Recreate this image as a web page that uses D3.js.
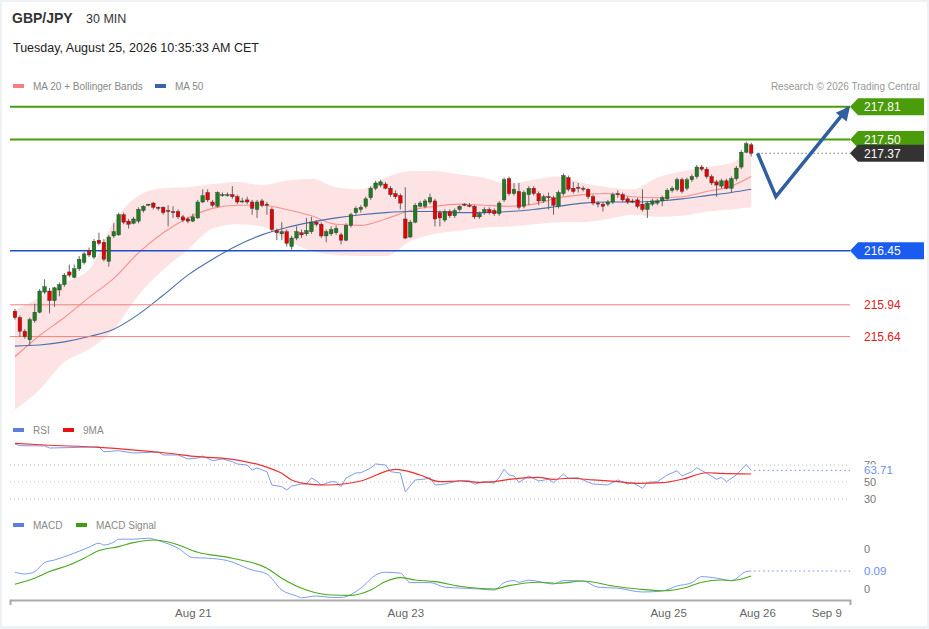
<!DOCTYPE html>
<html>
<head>
<meta charset="utf-8">
<script src="https://cdn.jsdelivr.net/npm/d3@7"></script>
<style>
body { margin:0; background:#eef2f5; font-family:"Liberation Sans", Arial, sans-serif; }
svg { display:block; }
</style>
</head>
<body>
<svg id="chart" width="929" height="629"></svg>
<script>
/* 30 min candles, index 0..149 */
var openV = [215.88,215.82,215.69,215.61,215.79,215.87,216.06,216.07,215.98,216.08,
 216.13,216.25,216.20,216.28,216.34,216.45,216.39,216.55,216.53,216.35,
 216.59,216.60,216.79,216.73,216.71,216.73,216.83,216.88,216.90,216.86,
 216.86,216.83,216.82,216.82,216.77,216.75,216.73,216.76,216.91,217.00,
 216.91,216.87,216.97,216.97,216.98,216.96,216.92,216.93,216.91,216.84,
 216.92,216.89,216.84,216.64,216.61,216.63,216.49,216.57,216.62,216.61,
 216.63,216.72,216.70,216.59,216.61,216.62,216.60,216.55,216.69,216.81,
 216.84,216.87,216.95,217.04,217.07,217.08,217.04,216.99,216.97,216.75,
 216.58,216.72,216.87,216.87,216.91,216.92,216.81,216.74,216.82,216.78,
 216.84,216.89,216.88,216.87,216.77,216.81,216.84,216.83,216.80,216.93,
 217.13,216.99,217.01,216.87,216.98,217.04,216.99,216.92,216.96,216.95,
 216.87,216.99,217.14,217.04,217.05,217.04,217.03,216.96,216.90,216.89,
 216.89,216.91,216.99,216.98,216.94,216.92,216.93,216.89,216.84,216.89,
 216.90,216.92,216.94,217.02,217.03,217.12,217.04,217.12,217.15,217.24,
 217.22,217.15,217.10,217.06,217.11,217.04,217.13,217.24,217.38,217.45];
var closeV = [215.82,215.69,215.64,215.80,215.87,216.07,216.11,215.98,216.10,216.13,
 216.22,216.22,216.28,216.37,216.42,216.41,216.54,216.52,216.37,216.58,
 216.63,216.79,216.72,216.70,216.75,216.84,216.87,216.89,216.86,216.85,
 216.81,216.82,216.81,216.77,216.74,216.73,216.77,216.91,216.97,216.93,
 216.88,217.00,216.98,216.98,216.96,216.91,216.92,216.91,216.85,216.91,
 216.88,216.88,216.65,216.62,216.63,216.52,216.57,216.63,216.60,216.64,
 216.72,216.70,216.59,216.63,216.65,216.66,216.55,216.69,216.79,216.85,
 216.86,216.94,217.04,217.09,217.10,217.04,216.98,216.96,216.90,216.57,
 216.72,216.88,216.90,216.92,216.95,216.75,216.76,216.82,216.78,216.83,
 216.87,216.88,216.87,216.77,216.80,216.84,216.81,216.80,216.90,217.12,
 216.99,217.03,216.86,217.00,217.04,216.99,216.92,216.96,216.95,216.88,
 217.00,217.16,217.03,217.01,217.04,217.03,216.96,216.90,216.89,216.87,
 216.91,216.98,216.98,216.93,216.91,216.91,216.87,216.84,216.90,216.92,
 216.92,216.95,217.02,217.04,217.12,217.01,217.12,217.15,217.24,217.22,
 217.15,217.09,217.07,217.11,217.04,217.13,217.23,217.38,217.46,217.37];
var highV = [215.90,215.84,215.71,215.82,215.95,216.09,216.18,216.10,216.11,216.15,
 216.24,216.32,216.32,216.40,216.44,216.48,216.56,216.62,216.56,216.60,
 216.71,216.81,216.81,216.75,216.77,216.86,216.88,216.89,216.91,216.87,
 216.87,216.88,216.87,216.84,216.79,216.77,216.80,216.93,217.03,217.03,
 216.93,217.01,217.00,217.00,217.06,216.98,216.95,216.96,216.93,216.93,
 216.94,216.91,216.86,216.66,216.72,216.65,216.59,216.68,216.65,216.76,
 216.77,216.74,216.72,216.65,216.68,216.69,216.62,216.71,216.81,216.87,
 216.88,216.96,217.06,217.11,217.12,217.10,217.06,217.02,216.99,217.05,
 216.74,216.90,216.92,216.94,216.99,216.94,216.83,216.84,216.84,216.85,
 216.88,216.90,216.90,216.88,216.82,216.86,216.86,216.85,216.92,217.14,
 217.15,217.09,217.09,217.02,217.06,217.06,217.01,216.98,217.00,216.97,
 217.02,217.18,217.16,217.10,217.09,217.06,217.04,216.98,216.92,216.91,
 216.93,217.00,217.02,217.00,216.96,216.94,216.95,217.03,216.92,216.94,
 216.94,216.97,217.04,217.06,217.14,217.14,217.14,217.17,217.26,217.26,
 217.24,217.17,217.12,217.13,217.13,217.15,217.25,217.40,217.48,217.47];
var lowV = [215.80,215.64,215.62,215.56,215.77,215.86,216.04,215.86,215.92,216.02,
 216.11,216.20,216.19,216.26,216.32,216.39,216.37,216.50,216.35,216.30,
 216.57,216.59,216.70,216.66,216.70,216.71,216.81,216.87,216.84,216.83,
 216.79,216.68,216.76,216.75,216.72,216.71,216.72,216.75,216.90,216.91,
 216.86,216.86,216.96,216.96,216.94,216.89,216.90,216.89,216.79,216.76,
 216.86,216.79,216.63,216.55,216.55,216.49,216.46,216.55,216.57,216.59,
 216.61,216.68,216.57,216.53,216.59,216.60,216.51,216.54,216.67,216.79,
 216.81,216.85,216.93,217.02,217.05,217.03,216.96,216.94,216.84,216.56,
 216.57,216.71,216.86,216.85,216.89,216.68,216.68,216.72,216.76,216.76,
 216.82,216.87,216.86,216.75,216.75,216.79,216.79,216.78,216.78,216.91,
 216.97,216.97,216.84,216.85,216.88,216.97,216.88,216.90,216.84,216.79,
 216.85,216.97,217.01,216.99,217.00,217.01,216.94,216.88,216.86,216.82,
 216.87,216.89,216.95,216.91,216.89,216.90,216.85,216.82,216.76,216.87,
 216.88,216.87,216.92,217.00,217.01,216.99,217.02,217.10,217.13,217.20,
 217.13,217.07,216.96,217.04,217.03,217.00,217.11,217.22,217.37,217.34];

/* moving averages and bands, read every 5 candles */
var avgIdx = [0,5,10,15,20,25,30,35,40,45,50,55,60,65,70,75,80,85,90,95,100,105,110,115,120,125,130,135,140,145,149];
var bbUp = [215.89,216.01,216.15,216.27,216.72,216.97,217.04,217.05,217.08,217.10,217.07,217.11,217.13,217.05,217.03,217.14,
 217.20,217.20,217.17,217.14,217.08,217.12,217.15,217.09,217.05,217.03,217.14,217.20,217.24,217.28,217.42];
var ma20 = [215.45,215.65,215.82,216.01,216.19,216.43,216.62,216.76,216.85,216.88,216.88,216.84,216.78,216.70,216.69,216.75,
 216.83,216.87,216.89,216.88,216.87,216.89,216.95,216.98,216.99,216.96,216.95,216.96,217.01,217.06,217.15];
var ma50 = [215.55,215.56,215.59,215.64,215.71,215.85,216.03,216.22,216.37,216.50,216.60,216.67,216.72,216.76,216.79,216.81,
 216.82,216.82,216.81,216.81,216.82,216.84,216.87,216.90,216.91,216.91,216.92,216.94,216.97,217.00,217.03];
var bbLow = [214.95,215.14,215.40,215.52,215.71,216.03,216.27,216.46,216.66,216.70,216.68,216.55,216.45,216.41,216.40,216.40,
 216.54,216.61,216.64,216.67,216.68,216.70,216.72,216.72,216.75,216.79,216.77,216.78,216.82,216.84,216.86];

var levels = [217.81, 217.50, 216.45, 215.94, 215.64];
var lastPrice = 217.37;
var projIdx = [150.3, 154, 168.6];
var projVal = [217.37, 216.96, 217.80];

var rsiIdx = [0,1,6,7,17,18,21,24,29,30,33,35,37,38,40,42,44,45,47,48,49,51,52,54,55,56,58,59,60,61,62,64,65,66,67,69,70,72,73,75,
 76,78,79,81,83,84,85,87,90,92,93,95,97,98,99,100,101,102,104,106,108,109,111,112,114,115,117,120,122,124,125,127,128,130,
 132,134,135,137,138,140,142,143,144,146,148,149];
var rsiVal = [94.7,92.7,92.4,90.0,91.2,85.6,86.8,84.1,85.3,81.8,81.8,77.1,78.2,80.6,75.1,77.1,73.9,71.2,70.0,64.1,66.5,62.1,46.5,44.5,40.6,45.3,47.6,47.6,54.7,51.5,46.5,50.4,50.0,44.5,54.7,60.6,60.9,66.5,71.2,70.0,
 62.1,60.6,38.6,52.4,53.5,55.1,46.5,47.6,51.8,51.5,47.3,50.4,48.5,55.5,64.9,58.2,57.1,49.6,57.1,51.2,53.2,49.2,59.4,54.4,55.1,52.4,47.6,46.5,52.4,47.6,49.2,42.6,49.6,50.4,
 58.2,63.3,57.1,62.1,66.8,60.2,53.2,55.5,50.4,58.2,70.8,63.71];
var rsiMaIdx = [0,6,17,31,37,44,50,54,56,60,63,70,77,79,82,86,90,94,97,100,106,109,112,117,122,126,131,135,140,143,149];
var rsiMaVal = [95.5,93.5,90.8,83.8,79.8,76.7,69.2,60.2,52.4,47.3,46.5,51.2,64.9,63.3,58.2,50.4,51.2,49.6,50.4,53.2,55.5,53.2,54.4,52.4,50.4,48.5,49.2,53.2,60.9,60.2,59.4];
var rsiTicks = [70, 50, 30];

var macdIdx = [0,2,4,6,8,11,15,17,18,20,21,24,27,29,33,36,39,43,48,51,54,57,58,61,64,66,70,73,75,78,80,84,87,90,94,97,99,101,102,104,
 109,111,115,118,122,127,131,134,137,139,142,145,148,149];
var macdVal = [0.084,0.075,0.087,0.132,0.145,0.170,0.209,0.229,0.220,0.234,0.249,0.249,0.254,0.242,0.204,0.157,0.154,0.142,0.095,0.075,-0.005,-0.035,-0.044,-0.035,-0.042,-0.042,0.004,0.070,0.084,0.079,0.032,0.032,0.009,0.005,0.000,-0.005,0.032,0.042,0.034,0.044,
 0.025,0.042,0.040,0.009,0.004,-0.015,-0.010,0.015,0.032,0.062,0.054,0.042,0.087,0.090];
var sigIdx = [0,4,7,11,14,17,21,24,28,32,37,44,51,54,59,64,68,72,75,78,81,85,90,97,100,106,110,115,121,126,131,136,139,143,145,149];
var sigVal = [0.024,0.054,0.087,0.120,0.154,0.192,0.212,0.232,0.245,0.229,0.184,0.154,0.104,0.054,-0.005,-0.030,-0.032,-0.005,0.037,0.057,0.045,0.037,0.014,0.000,0.017,0.034,0.029,0.040,0.015,0.000,-0.009,0.009,0.034,0.045,0.042,0.065];
var macdTicks = [0.2, 0];
var lastMacd = 0.09;

var tickIdx = [36, 79, 132.2, 150.2, 164.2];
var tickLabels = ["Aug 21", "Aug 23", "Aug 25", "Aug 26", "Sep 9"];

var svg = d3.select("#chart");
svg.append("rect").attr("x",2).attr("y",2).attr("width",925).attr("height",624).attr("fill","#fff");

var x = d3.scaleLinear().domain([-1,169]).range([10,850]);
var y = d3.scaleLinear().domain([214.9,217.92]).range([415,95]);
var yRsi = d3.scaleLinear().domain([30,70]).range([499,465]);
var yMacd = d3.scaleLinear().domain([0,0.2]).range([589,549]);

/* header */
svg.append("text").text("GBP/JPY").attr("x",12).attr("y",23).attr("font-size",14).attr("font-weight","bold").attr("fill","#333");
svg.append("text").text("30 MIN").attr("x",86).attr("y",23).attr("font-size",12.5).attr("fill","#333");
svg.append("text").text("Tuesday, August 25, 2026 10:35:33 AM CET").attr("x",13).attr("y",52).attr("font-size",12.5).attr("fill","#222");

function legendItem(px, py, col, label) {
 svg.append("rect").attr("x",px).attr("y",py-2).attr("width",11).attr("height",4).attr("fill",col);
 svg.append("text").text(label).attr("x",px+20).attr("y",py+4).attr("font-size",10).attr("fill","#888");
}
legendItem(13, 86, "#f77f7f", "MA 20 + Bollinger Bands");
legendItem(155, 86, "#3a62a8", "MA 50");
svg.append("text").text("Research \u00a9 2026 Trading Central").attr("x",920).attr("y",90).attr("text-anchor","end").attr("font-size",10).attr("fill","#999");

/* bands and averages */
var band = d3.area().curve(d3.curveMonotoneX)
 .x(function(d,i) { return x(avgIdx[i]); })
 .y0(function(d,i) { return y(bbLow[i]); })
 .y1(function(d,i) { return y(d); });
svg.append("path").datum(bbUp).attr("d",band).attr("fill","#fde3e3");

function avgLine(vals, col, w) {
 var ln = d3.line().curve(d3.curveMonotoneX)
  .x(function(d,i) { return x(avgIdx[i]); })
  .y(function(d) { return y(d); });
 svg.append("path").datum(vals).attr("d",ln).attr("fill","none").attr("stroke",col).attr("stroke-width",w);
}
avgLine(ma20, "#f79090", 1.1);
avgLine(ma50, "#4a6fb0", 1.1);

/* level lines */
var levelCol = ["#4a9c0a","#4a9c0a","#1f4fc4","#f07f7f","#f07f7f"];
var levelW = [2, 2, 1.5, 1, 1];
svg.selectAll("line.lvl").data(levels).enter().append("line").attr("class","lvl")
 .attr("x1",10).attr("x2",850)
 .attr("y1",function(d) { return y(d); }).attr("y2",function(d) { return y(d); })
 .attr("stroke",function(d,i) { return levelCol[i]; })
 .attr("stroke-width",function(d,i) { return levelW[i]; });

/* candles */
var cw = 3.6;
var cg = svg.append("g");
cg.selectAll("line").data(closeV).enter().append("line")
 .attr("x1",function(d,i) { return x(i); }).attr("x2",function(d,i) { return x(i); })
 .attr("y1",function(d,i) { return y(highV[i]); }).attr("y2",function(d,i) { return y(lowV[i]); })
 .attr("stroke","#666").attr("stroke-width",1);
cg.selectAll("rect").data(closeV).enter().append("rect")
 .attr("x",function(d,i) { return x(i) - cw/2; }).attr("width",cw)
 .attr("y",function(d,i) { return y(Math.max(openV[i], d)); })
 .attr("height",function(d,i) { return Math.max(1, Math.abs(y(openV[i]) - y(d))); })
 .attr("fill",function(d,i) { return d >= openV[i] ? "#1e7d1e" : "#e60000"; })
 .attr("stroke","#333").attr("stroke-width",0.4);

/* last price dotted */
svg.append("line").attr("x1",x(150.3)).attr("x2",850).attr("y1",y(lastPrice)).attr("y2",y(lastPrice))
 .attr("stroke","#333").attr("stroke-dasharray","1,3");

/* projection arrow */
var proj = d3.line().x(function(d,i) { return x(projIdx[i]); }).y(function(d) { return y(d); });
svg.append("path").datum(projVal).attr("d",proj).attr("fill","none").attr("stroke","#2f5f9f")
 .attr("stroke-width",3.5).attr("stroke-linejoin","miter");
var tx = x(projIdx[2]) + 2, ty = y(projVal[2]) - 1.5;
var ang = Math.atan2(y(projVal[2]) - y(projVal[1]), x(projIdx[2]) - x(projIdx[1]));
var hl = 14, hw = 7;
var bx = tx - hl*Math.cos(ang), by = ty - hl*Math.sin(ang);
svg.append("path").attr("fill","#2f5f9f")
 .attr("d","M"+tx+","+ty+" L"+(bx + hw*Math.sin(ang))+","+(by - hw*Math.cos(ang))+" L"+(bx - hw*Math.sin(ang))+","+(by + hw*Math.cos(ang))+" Z");

/* price tags */
function tag(val, fill) {
 var yy = y(val);
 svg.append("path").attr("fill",fill)
  .attr("d","M850,"+yy+" L858,"+(yy-8.5)+" L924,"+(yy-8.5)+" L924,"+(yy+8.5)+" L858,"+(yy+8.5)+" Z");
 svg.append("text").text(val.toFixed(2)).attr("x",864).attr("y",yy+4.3).attr("font-size",12).attr("fill","#fff");
}
tag(levels[0], "#4a9c0a");
tag(levels[1], "#4a9c0a");
tag(lastPrice, "#333333");
tag(levels[2], "#1a5cf0");
[levels[3], levels[4]].forEach(function(v) {
 svg.append("text").text(v.toFixed(2)).attr("x",864).attr("y",y(v)+4.3).attr("font-size",12).attr("fill","#e02020");
});

/* RSI panel */
legendItem(13, 430, "#5b7fe0", "RSI");
legendItem(63, 430, "#e81010", "9MA");
svg.selectAll("line.rg").data(rsiTicks).enter().append("line").attr("class","rg")
 .attr("x1",10).attr("x2",850)
 .attr("y1",function(d) { return yRsi(d); }).attr("y2",function(d) { return yRsi(d); })
 .attr("stroke","#bbb").attr("stroke-dasharray","1,3");
svg.selectAll("text.rt").data(rsiTicks).enter().append("text").attr("class","rt")
 .text(function(d) { return d; }).attr("x",864).attr("y",function(d) { return yRsi(d) + 4; })
 .attr("font-size",11).attr("fill","#777");
var rsiLine = d3.line().x(function(d,i) { return x(rsiIdx[i]); }).y(function(d) { return yRsi(d); });
svg.append("path").datum(rsiVal).attr("d",rsiLine).attr("fill","none").attr("stroke","#7d9cec").attr("stroke-width",1);
var rsiMaLine = d3.line().curve(d3.curveMonotoneX).x(function(d,i) { return x(rsiMaIdx[i]); }).y(function(d) { return yRsi(d); });
svg.append("path").datum(rsiMaVal).attr("d",rsiMaLine).attr("fill","none").attr("stroke","#ee3030").attr("stroke-width",1.2);
var rLast = rsiVal[rsiVal.length-1];
svg.append("line").attr("x1",x(149)+3).attr("x2",850).attr("y1",yRsi(rLast)).attr("y2",yRsi(rLast))
 .attr("stroke","#6d8fe8").attr("stroke-dasharray","1.5,3");
svg.append("rect").attr("x",862).attr("y",yRsi(rLast)-6).attr("width",40).attr("height",11).attr("fill","#fff");
svg.append("text").text(rLast.toFixed(2)).attr("x",864).attr("y",yRsi(rLast)+4).attr("font-size",11.5).attr("fill","#6d8fe8");

/* MACD panel */
legendItem(13, 525, "#5b7fe0", "MACD");
legendItem(76, 525, "#3d9e10", "MACD Signal");
svg.selectAll("text.mt").data(macdTicks).enter().append("text").attr("class","mt")
 .text(function(d) { return d.toFixed(0); }).attr("x",864).attr("y",function(d) { return yMacd(d) + 4; })
 .attr("font-size",11).attr("fill","#777");
var macdLine = d3.line().curve(d3.curveMonotoneX).x(function(d,i) { return x(macdIdx[i]); }).y(function(d) { return yMacd(d); });
svg.append("path").datum(macdVal).attr("d",macdLine).attr("fill","none").attr("stroke","#7d9cec").attr("stroke-width",1);
var sigLine = d3.line().curve(d3.curveMonotoneX).x(function(d,i) { return x(sigIdx[i]); }).y(function(d) { return yMacd(d); });
svg.append("path").datum(sigVal).attr("d",sigLine).attr("fill","none").attr("stroke","#4caa20").attr("stroke-width",1.1);
svg.append("line").attr("x1",x(149)+3).attr("x2",850).attr("y1",yMacd(lastMacd)).attr("y2",yMacd(lastMacd))
 .attr("stroke","#6d8fe8").attr("stroke-dasharray","1.5,3");
svg.append("text").text(lastMacd.toFixed(2)).attr("x",864).attr("y",yMacd(lastMacd)+4).attr("font-size",11.5).attr("fill","#6d8fe8");

/* time axis */
var xAxis = d3.axisBottom(x).tickValues(tickIdx)
 .tickFormat(function(d,i) { return tickLabels[i]; })
 .tickSize(0).tickSizeOuter(5).tickPadding(9);
var ax = svg.append("g").attr("transform","translate(0,600)").call(xAxis);
ax.select(".domain").attr("stroke","#aaa").attr("stroke-width",2);
ax.selectAll("text").attr("font-size",11.5).attr("fill","#666").attr("font-family","Liberation Sans, Arial, sans-serif");
</script>
</body>
</html>
